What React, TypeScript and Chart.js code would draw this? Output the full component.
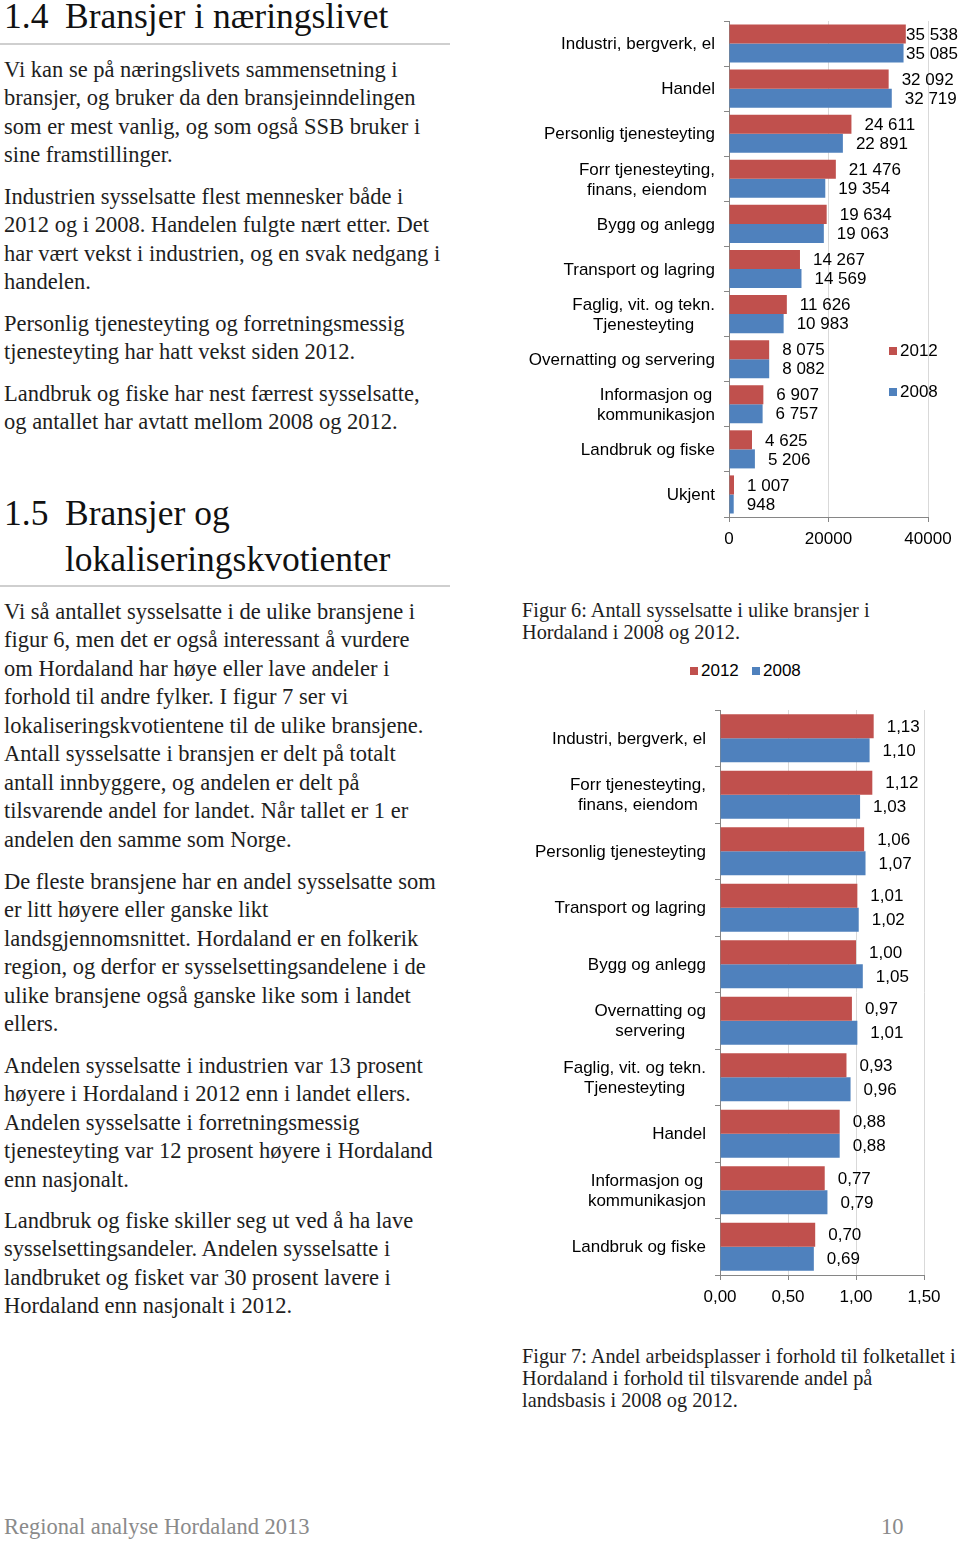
import React, { useEffect, useRef } from "react";
import { Chart, registerables } from "chart.js";

Chart.register(...registerables);

// ---------- Figure 6 data ----------
const fig6Categories: (string | string[])[] = [
  "Industri, bergverk, el",
  "Handel",
  "Personlig tjenesteyting",
  ["Forr tjenesteyting,", "finans, eiendom"],
  "Bygg og anlegg",
  "Transport og lagring",
  ["Faglig, vit. og tekn.", "Tjenesteyting"],
  "Overnatting og servering",
  ["Informasjon og", "kommunikasjon"],
  "Landbruk og fiske",
  "Ukjent",
];
const fig6Values2012 = [35538, 32092, 24611, 21476, 19634, 14267, 11626, 8075, 6907, 4625, 1007];
const fig6Values2008 = [35085, 32719, 22891, 19354, 19063, 14569, 10983, 8082, 6757, 5206, 948];
const fig6AxisMin = 0;
const fig6AxisMax = 40000;
const fig6AxisStep = 20000;

// ---------- Figure 7 data ----------
const fig7Categories: (string | string[])[] = [
  "Industri, bergverk, el",
  ["Forr tjenesteyting,", "finans, eiendom"],
  "Personlig tjenesteyting",
  "Transport og lagring",
  "Bygg og anlegg",
  ["Overnatting og", "servering"],
  ["Faglig, vit. og tekn.", "Tjenesteyting"],
  "Handel",
  ["Informasjon og", "kommunikasjon"],
  "Landbruk og fiske",
];
const fig7Values2012 = [1.13, 1.12, 1.06, 1.01, 1.0, 0.97, 0.93, 0.88, 0.77, 0.7];
const fig7Values2008 = [1.1, 1.03, 1.07, 1.02, 1.05, 1.01, 0.96, 0.88, 0.79, 0.69];
const fig7AxisMin = 0;
const fig7AxisMax = 1.5;
const fig7AxisStep = 0.5;

const seriesNames = ["2012", "2008"];
const RED = "#C0504D";
const BLUE = "#4F81BD";
const AXIS = "#868686";
const GRID = "#d9d9d9";
const SANS = '"Liberation Sans", Arial, Helvetica, sans-serif';
const SERIF = '"Liberation Serif", "Times New Roman", serif';

const fmtThousands = (v: number) => String(v).replace(/\B(?=(\d{3})+(?!\d))/g, " ");
const fmtComma = (v: number) => Number(v).toFixed(2).replace(".", ",");

function makeLabelPlugin(categories: (string | string[])[], fmt: (v: number) => string, catGap: number) {
  return {
    id: "customLabels",
    afterDatasetsDraw(chart: any) {
      const ctx = chart.ctx as CanvasRenderingContext2D;
      ctx.save();
      ctx.font = `17px ${SANS}`;
      ctx.fillStyle = "#000";
      ctx.textBaseline = "middle";
      chart.data.datasets.forEach((ds: any, di: number) => {
        const meta = chart.getDatasetMeta(di);
        meta.data.forEach((el: any, i: number) => {
          const text = fmt(ds.data[i]);
          const w = ctx.measureText(text).width;
          let x = el.x + 13;
          if (x + w > chart.width - 2) x = chart.width - 2 - w;
          ctx.textAlign = "left";
          ctx.fillText(text, x, el.y + 1);
        });
      });
      const yScale = chart.scales.y;
      const right = chart.chartArea.left - catGap;
      categories.forEach((cat, i) => {
        const lines = Array.isArray(cat) ? cat : [cat];
        const bw = Math.max(...lines.map((l) => ctx.measureText(l).width));
        const cx = right - bw / 2;
        const yc = yScale.getPixelForTick(i);
        ctx.textAlign = "center";
        lines.forEach((l, k) => ctx.fillText(l, cx, yc + 1 + (k - (lines.length - 1) / 2) * 20));
      });
      ctx.restore();
    },
  };
}

function BarChart(props: {
  categories: (string | string[])[];
  v2012: number[];
  v2008: number[];
  min: number;
  max: number;
  step: number;
  tickFmt: (v: number) => string;
  valFmt: (v: number) => string;
  width: number;
  height: number;
  yWidth: number;
  padTop: number;
  padRight: number;
  catPct: number;
  catGap: number;
}) {
  const ref = useRef<HTMLCanvasElement | null>(null);
  useEffect(() => {
    if (!ref.current) return;
    const labels = props.categories.map((c) => (Array.isArray(c) ? c.join(" ") : c));
    const chart = new Chart(ref.current, {
      type: "bar",
      data: {
        labels,
        datasets: [
          {
            label: seriesNames[0],
            data: props.v2012,
            backgroundColor: RED,
            borderWidth: 0,
            categoryPercentage: props.catPct,
            barPercentage: 1.0,
          },
          {
            label: seriesNames[1],
            data: props.v2008,
            backgroundColor: BLUE,
            borderWidth: 0,
            categoryPercentage: props.catPct,
            barPercentage: 1.0,
          },
        ],
      },
      options: {
        indexAxis: "y",
        responsive: false,
        maintainAspectRatio: false,
        animation: false,
        events: [],
        layout: { padding: { top: props.padTop, right: props.padRight, bottom: 0, left: 0 } },
        plugins: { legend: { display: false }, tooltip: { enabled: false } },
        scales: {
          x: {
            type: "linear",
            min: props.min,
            max: props.max,
            ticks: {
              stepSize: props.step,
              callback: (v: any) => props.tickFmt(Number(v)),
              font: { family: SANS, size: 17 },
              color: "#000",
              padding: 7,
              maxRotation: 0,
            },
            grid: { color: GRID, tickColor: AXIS, tickLength: 5, drawTicks: true },
            border: { color: AXIS },
            afterFit: (s: any) => {
              s.height = 38;
            },
          },
          y: {
            type: "category",
            offset: true,
            ticks: { display: false },
            grid: { offset: true, drawOnChartArea: false, drawTicks: true, tickLength: 5, tickColor: AXIS },
            border: { color: AXIS },
            afterFit: (s: any) => {
              s.width = props.yWidth;
            },
          },
        },
      } as any,
      plugins: [makeLabelPlugin(props.categories, props.valFmt, props.catGap)],
    });
    return () => chart.destroy();
  }, []);
  return <canvas ref={ref} width={props.width} height={props.height} style={{ width: props.width, height: props.height, display: "block" }} />;
}

const bodyStyle: React.CSSProperties = {
  position: "absolute",
  left: 4,
  fontFamily: SERIF,
  fontSize: 22.5,
  lineHeight: "28.45px",
  color: "#1e1e1e",
  whiteSpace: "nowrap",
  margin: 0,
};

function Para({ top, lines }: { top: number; lines: string[] }) {
  return (
    <div style={{ ...bodyStyle, top }}>
      {lines.map((l, i) => (
        <React.Fragment key={i}>
          {l}
          {i < lines.length - 1 ? <br /> : null}
        </React.Fragment>
      ))}
    </div>
  );
}

function LegendItem({ left, top, color, text }: { left: number; top: number; color: string; text: string }) {
  return (
    <div style={{ position: "absolute", left, top, height: 20, display: "flex", alignItems: "center", fontFamily: SANS, fontSize: 17, color: "#000", whiteSpace: "nowrap" }}>
      <span style={{ display: "inline-block", width: 8, height: 8, background: color, marginRight: 3 }} />
      <span style={{ lineHeight: "20px" }}>{text}</span>
    </div>
  );
}

const headingStyle: React.CSSProperties = {
  position: "absolute",
  left: 4,
  fontFamily: SERIF,
  fontSize: 35.5,
  lineHeight: "45.5px",
  color: "#111",
  whiteSpace: "nowrap",
};

const captionStyle: React.CSSProperties = {
  position: "absolute",
  left: 522,
  fontFamily: SERIF,
  fontSize: 20.3,
  lineHeight: "22px",
  color: "#1e1e1e",
  whiteSpace: "nowrap",
};

export default function App() {
  return (
    <div style={{ position: "absolute", left: 0, top: 0, width: 960, height: 1542, background: "#fff", overflow: "hidden" }}>
      {/* Section 1.4 */}
      <div style={{ ...headingStyle, top: -6 }}>
        <span style={{ display: "inline-block", width: 61 }}>1.4</span>Bransjer i næringslivet
      </div>
      <div style={{ position: "absolute", left: 0, top: 43, width: 450, height: 2, background: "#cfcfcf" }} />
      <Para top={56} lines={[
        "Vi kan se på næringslivets sammensetning i",
        "bransjer, og bruker da den bransjeinndelingen",
        "som er mest vanlig, og som også SSB bruker i",
        "sine framstillinger.",
      ]} />
      <Para top={183} lines={[
        "Industrien sysselsatte flest mennesker både i",
        "2012 og i 2008. Handelen fulgte nært etter. Det",
        "har vært vekst i industrien, og en svak nedgang i",
        "handelen.",
      ]} />
      <Para top={310} lines={[
        "Personlig tjenesteyting og forretningsmessig",
        "tjenesteyting har hatt vekst siden 2012.",
      ]} />
      <Para top={380} lines={[
        "Landbruk og fiske har nest færrest sysselsatte,",
        "og antallet har avtatt mellom 2008 og 2012.",
      ]} />

      {/* Section 1.5 */}
      <div style={{ ...headingStyle, top: 491 }}>
        <span style={{ display: "inline-block", width: 61 }}>1.5</span>Bransjer og
        <br />
        <span style={{ display: "inline-block", width: 61 }} />lokaliseringskvotienter
      </div>
      <div style={{ position: "absolute", left: 0, top: 585, width: 450, height: 2, background: "#cfcfcf" }} />
      <Para top={598} lines={[
        "Vi så antallet sysselsatte i de ulike bransjene i",
        "figur 6, men det er også interessant å vurdere",
        "om Hordaland har høye eller lave andeler i",
        "forhold til andre fylker. I figur 7 ser vi",
        "lokaliseringskvotientene til de ulike bransjene.",
        "Antall sysselsatte i bransjen er delt på totalt",
        "antall innbyggere, og andelen er delt på",
        "tilsvarende andel for landet. Når tallet er 1 er",
        "andelen den samme som Norge.",
      ]} />
      <Para top={868} lines={[
        "De fleste bransjene har en andel sysselsatte som",
        "er litt høyere eller ganske likt",
        "landsgjennomsnittet. Hordaland er en folkerik",
        "region, og derfor er sysselsettingsandelene i de",
        "ulike bransjene også ganske like som i landet",
        "ellers.",
      ]} />
      <Para top={1052} lines={[
        "Andelen sysselsatte i industrien var 13 prosent",
        "høyere i Hordaland i 2012 enn i landet ellers.",
        "Andelen sysselsatte i forretningsmessig",
        "tjenesteyting var 12 prosent høyere i Hordaland",
        "enn nasjonalt.",
      ]} />
      <Para top={1207} lines={[
        "Landbruk og fiske skiller seg ut ved å ha lave",
        "sysselsettingsandeler. Andelen sysselsatte i",
        "landbruket og fisket var 30 prosent lavere i",
        "Hordaland enn nasjonalt i 2012.",
      ]} />

      {/* Figure 6 */}
      <div style={{ position: "absolute", left: 520, top: 15 }}>
        <BarChart
          categories={fig6Categories}
          v2012={fig6Values2012}
          v2008={fig6Values2008}
          min={fig6AxisMin}
          max={fig6AxisMax}
          step={fig6AxisStep}
          tickFmt={(v) => String(v)}
          valFmt={fmtThousands}
          width={440}
          height={540}
          yWidth={209}
          padTop={6}
          padRight={32}
          catPct={0.845}
          catGap={14}
        />
      </div>
      <LegendItem left={889} top={341} color={RED} text={seriesNames[0]} />
      <LegendItem left={889} top={382} color={BLUE} text={seriesNames[1]} />
      <div style={{ ...captionStyle, top: 599 }}>
        Figur 6: Antall sysselsatte i ulike bransjer i
        <br />
        Hordaland i 2008 og 2012.
      </div>

      {/* Figure 7 */}
      <LegendItem left={690} top={661} color={RED} text={seriesNames[0]} />
      <LegendItem left={752} top={661} color={BLUE} text={seriesNames[1]} />
      <div style={{ position: "absolute", left: 520, top: 700 }}>
        <BarChart
          categories={fig7Categories}
          v2012={fig7Values2012}
          v2008={fig7Values2008}
          min={fig7AxisMin}
          max={fig7AxisMax}
          step={fig7AxisStep}
          tickFmt={fmtComma}
          valFmt={fmtComma}
          width={440}
          height={613}
          yWidth={200}
          padTop={10}
          padRight={36}
          catPct={0.85}
          catGap={14}
        />
      </div>
      <div style={{ ...captionStyle, top: 1345 }}>
        Figur 7: Andel arbeidsplasser i forhold til folketallet i
        <br />
        Hordaland i forhold til tilsvarende andel på
        <br />
        landsbasis i 2008 og 2012.
      </div>

      {/* Footer */}
      <div style={{ position: "absolute", left: 4, top: 1513, fontFamily: SERIF, fontSize: 22.5, lineHeight: "28px", color: "#8a8a8a", whiteSpace: "nowrap" }}>
        Regional analyse Hordaland 2013
      </div>
      <div style={{ position: "absolute", left: 881, top: 1513, fontFamily: SERIF, fontSize: 22.5, lineHeight: "28px", color: "#8a8a8a", whiteSpace: "nowrap" }}>
        10
      </div>
    </div>
  );
}
